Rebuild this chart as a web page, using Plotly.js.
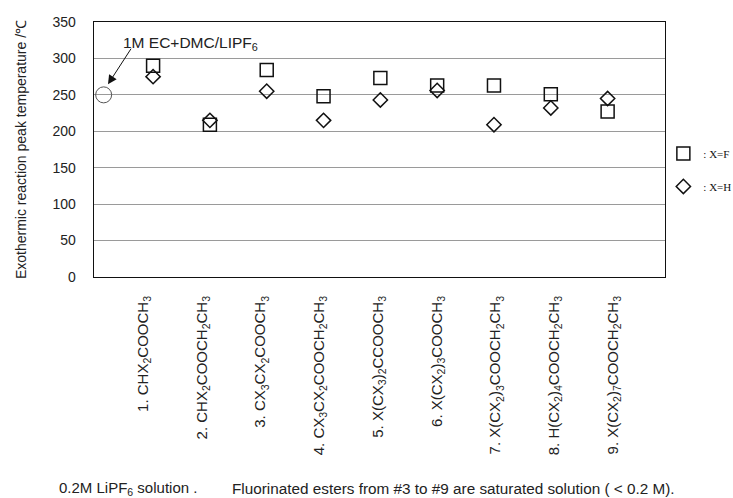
<!DOCTYPE html>
<html>
<head>
<meta charset="utf-8">
<script src="https://cdn.plot.ly/plotly-3.0.1.min.js"></script>
<style>html,body{margin:0;padding:0;background:#fff;}#chart{width:733px;height:498px;}</style>
</head>
<body>
<div id="chart"></div>
<script>
// Data
const positions = [1, 2, 3, 4, 5, 6, 7, 8, 9];
const esterLabels = [
  "1. CHX<sub>2</sub>COOCH<sub>3</sub>",
  "2. CHX<sub>2</sub>COOCH<sub>2</sub>CH<sub>3</sub>",
  "3. CX<sub>3</sub>CX<sub>2</sub>COOCH<sub>3</sub>",
  "4. CX<sub>3</sub>CX<sub>2</sub>COOCH<sub>2</sub>CH<sub>3</sub>",
  "5. X(CX<sub>3</sub>)<sub>2</sub>CCOOCH<sub>3</sub>",
  "6. X(CX<sub>2</sub>)<sub>3</sub>COOCH<sub>3</sub>",
  "7. X(CX<sub>2</sub>)<sub>3</sub>COOCH<sub>2</sub>CH<sub>3</sub>",
  "8. H(CX<sub>2</sub>)<sub>4</sub>COOCH<sub>2</sub>CH<sub>3</sub>",
  "9. X(CX<sub>2</sub>)<sub>7</sub>COOCH<sub>2</sub>CH<sub>3</sub>"
];
const tempF = [290, 209, 284, 248, 273, 263, 263, 251, 227];
const tempH = [275, 215, 255, 215, 243, 256, 209, 232, 245];
const refX = [0.13];
const refTemp = [250];
const yTicks = [0, 50, 100, 150, 200, 250, 300, 350];

const traces = [
  {x: refX, y: refTemp, type: 'scatter', mode: 'markers', showlegend: false,
   marker: {symbol: 'circle-open', size: 16, color: '#555', line: {width: 1, color: '#555'}}},
  {x: positions, y: tempF, type: 'scatter', mode: 'markers', name: ': X=F', legendgroup: 'f',
   marker: {symbol: 'square-open', size: 13, color: '#111', line: {width: 1.5, color: '#111'}}},
  {x: positions, y: tempH, type: 'scatter', mode: 'markers', name: ': X=H', legendgroup: 'h',
   marker: {symbol: 'diamond-open', size: 11, color: '#111', line: {width: 1.5, color: '#111'}}},
  {x: positions, y: tempF, xaxis: 'x2', type: 'scatter', mode: 'markers', showlegend: false,
   hoverinfo: 'skip', marker: {opacity: 0}}
];

const layout = {
  width: 733, height: 498,
  margin: {l: 94, r: 68, t: 22, b: 221, autoexpand: false},
  paper_bgcolor: '#fff', plot_bgcolor: '#fff',
  font: {family: 'Arial, "Liberation Sans", sans-serif', color: '#222', size: 13},
  showlegend: true,
  legend: {xref: 'container', yref: 'container', x: 0.905, xanchor: 'left', y: 0.721, yanchor: 'top',
           tracegroupgap: 14,
           font: {family: '"Liberation Serif", "Times New Roman", serif', size: 11, color: '#111'},
           bgcolor: 'rgba(0,0,0,0)'},
  xaxis: {range: [-0.04, 10.01], showgrid: false, zeroline: false, showticklabels: false,
          ticks: '', showline: true, mirror: true, linecolor: '#111', linewidth: 1.3},
  xaxis2: {overlaying: 'x', anchor: 'y', side: 'bottom', range: [0.166, 9.885],
           tickmode: 'array', tickvals: positions, ticktext: esterLabels, tickangle: -90,
           showgrid: false, zeroline: false, showline: false, ticks: 'outside', ticklen: 12,
           tickcolor: 'rgba(0,0,0,0)', tickfont: {size: 15, color: '#222'}},
  yaxis: {range: [0, 350], tickmode: 'array', tickvals: yTicks, showgrid: true,
          gridcolor: '#9a9a9a', gridwidth: 1, zeroline: false, showline: true, mirror: true,
          linecolor: '#111', linewidth: 1.3, ticks: 'outside', ticklen: 14, tickcolor: 'rgba(0,0,0,0)',
          tickfont: {size: 14, color: '#222'},
          title: {text: 'Exothermic reaction peak temperature /℃', font: {size: 14, color: '#222'}, standoff: 22}},
  annotations: [
    {x: 1.65, y: 320, xref: 'x', yref: 'y', text: '1M EC+DMC/LIPF<sub>6</sub>',
     showarrow: false, font: {size: 15.5, color: '#222'}},
    {x: 0.206, y: 264.5, xref: 'x', yref: 'y', text: '',
     showarrow: true, arrowhead: 2, arrowsize: 1.8, arrowwidth: 1, arrowcolor: '#111',
     ax: 24, ay: -37},
    {x: -0.065, y: -0.83, xref: 'paper', yref: 'paper', xanchor: 'left', yanchor: 'middle',
     showarrow: false, text: '0.2M LiPF<sub>6</sub> solution .', font: {size: 15, color: '#222'}},
    {x: 0.238, y: -0.83, xref: 'paper', yref: 'paper', xanchor: 'left', yanchor: 'middle',
     showarrow: false, text: 'Fluorinated esters from #3 to #9 are saturated solution ( < 0.2 M).',
     font: {size: 15.3, color: '#222'}}
  ]
};

Plotly.newPlot('chart', traces, layout, {displayModeBar: false, staticPlot: true});
</script>
</body>
</html>
